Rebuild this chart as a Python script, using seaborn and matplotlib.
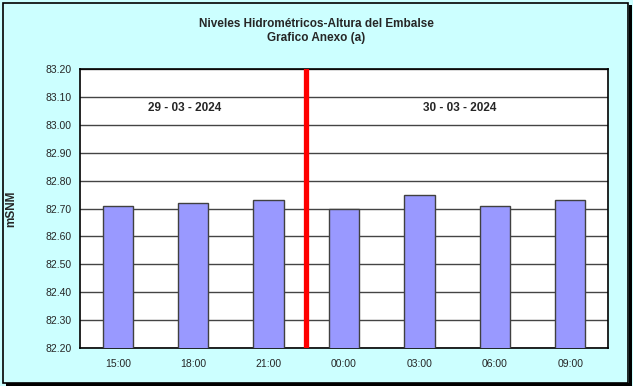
import numpy as np
import pandas as pd
import seaborn as sns
import matplotlib.pyplot as plt
from matplotlib.patches import Rectangle

horas = ["15:00", "18:00", "21:00", "00:00", "03:00", "06:00", "09:00"]
niveles = [82.71, 82.72, 82.73, 82.70, 82.75, 82.71, 82.73]
fechas = ["29 - 03 - 2024", "30 - 03 - 2024"]
y_ticks = [82.20, 82.30, 82.40, 82.50, 82.60, 82.70, 82.80, 82.90, 83.00, 83.10, 83.20]

sns.set_style("white")
plt.rcParams['font.family'] = ['Liberation Sans', 'DejaVu Sans']

df = pd.DataFrame({"Hora": horas, "Nivel": niveles})

fig = plt.figure(figsize=(6.33, 3.86), dpi=100, facecolor="#CCFFFF")
ax = fig.add_axes([0.1264, 0.0984, 0.8341, 0.7228])
ax.set_facecolor("white")

sns.barplot(data=df, x="Hora", y="Nivel", color="#9999FF", width=0.4,
            edgecolor="#404040", linewidth=1.0, saturation=1, ax=ax, zorder=3)

ax.set_ylim(y_ticks[0], y_ticks[-1])
ax.set_yticks(y_ticks)
ax.set_yticklabels(["%.2f" % v for v in y_ticks], fontsize=7.5)
ax.set_xlim(-0.5, len(horas) - 0.5)
ax.set_xticks(np.arange(len(horas)))
ax.set_xticklabels(horas, fontsize=7.5)
ax.set_xticks(np.arange(len(horas) + 1) - 0.5, minor=True)
ax.tick_params(axis="x", which="major", length=0, pad=8)
ax.tick_params(axis="x", which="minor", length=4, color="black", direction="out")
ax.tick_params(axis="y", length=4, color="black", direction="out", pad=2)
ax.yaxis.grid(True, color="#444444", linewidth=1.0, zorder=0)
ax.set_axisbelow(True)
for s in ax.spines.values():
    s.set_color("black")
    s.set_linewidth(1.2)

ax.axvline(2.5, color="red", linewidth=3.8, zorder=4)

ax.text(0.89, 83.06, fechas[0], ha="center", va="center", fontsize=8.5, fontweight="bold")
ax.text(4.54, 83.06, fechas[1], ha="center", va="center", fontsize=8.5, fontweight="bold")

ax.set_xlabel("")
ax.set_ylabel("mSNM", fontsize=8.5, fontweight="bold", labelpad=20)

fig.text(0.5, 0.92, "Niveles Hidrométricos-Altura del Embalse\nGrafico Anexo (a)",
         ha="center", va="center", fontsize=8.5, fontweight="bold", linespacing=1.3)

fig.patches.append(Rectangle((0.004, 0.008), 0.988, 0.985, transform=fig.transFigure,
                             fill=False, edgecolor="black", linewidth=1.2))
fig.patches.append(Rectangle((0.994, 0.003), 0.004, 0.985, transform=fig.transFigure,
                             facecolor="black", edgecolor="none"))
fig.patches.append(Rectangle((0.009, 0.0), 0.989, 0.007, transform=fig.transFigure,
                             facecolor="black", edgecolor="none"))

fig.savefig("out.png", dpi=100, facecolor=fig.get_facecolor())
